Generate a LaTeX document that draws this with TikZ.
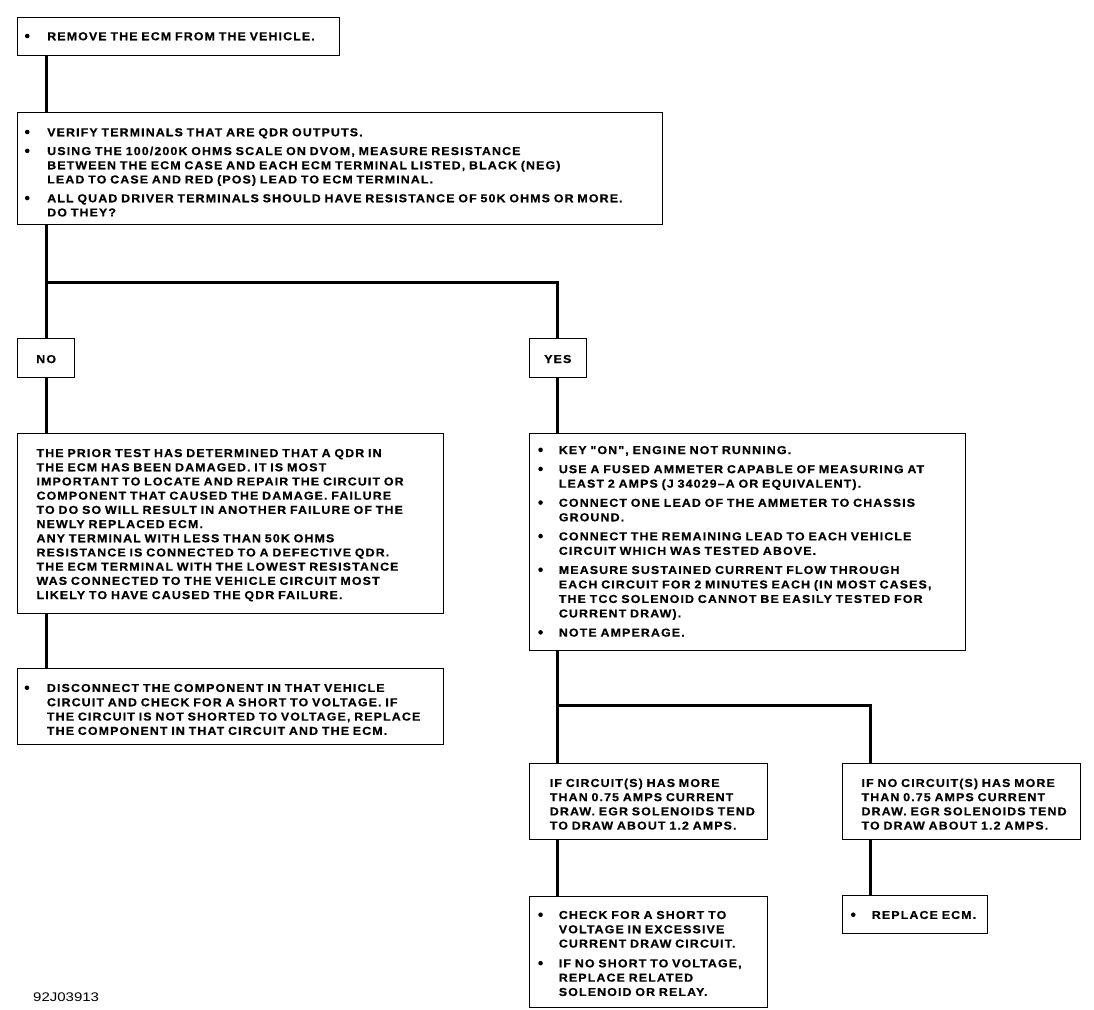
\documentclass[tikz,border=0pt]{standalone}
\usepackage{fontspec}
\setmainfont{Liberation Sans}
\newfontfamily\bxfont{Liberation Sans}[FakeStretch=1.08,LetterSpace=9.7,BoldFeatures={FakeBold=0.6}]
\newfontfamily\idfont{Liberation Sans}[FakeStretch=1.2]
\newcommand\bul{\raisebox{1.9pt}{\tikz\fill[black] (0pt,0pt) circle[radius=2.3pt];}}
\newcommand\BL[3]{{\fontsize{11.5}{#1}\selectfont\begin{tabular}[t]{@{}p{#2}@{}l@{}}#3\end{tabular}}}
\newcommand\PL[2]{{\fontsize{11.5}{#1}\selectfont\begin{tabular}[t]{@{}l@{}}#2\end{tabular}}}
\begin{document}
\begin{tikzpicture}[x=1pt,y=-1pt,
  box/.style={draw=black, line width=1.1pt, anchor=north west, inner ysep=0pt, align=left,
    font=\bxfont\bfseries\fontsize{11.5}{13.8}\selectfont},
  conn/.style={line width=3pt},
  idlabel/.style={anchor=west, inner sep=0pt, font=\idfont\fontsize{12.5}{14}\selectfont}
]
\useasboundingbox (0,0) rectangle (1094,1009);

\node[box, inner xsep=7.1pt, text width=307.8pt, text height=22.4pt, text depth=15.3pt] (b1) at (17.3,17.3)
  {\BL{13.8pt}{22.3pt}{\bul & REMOVE THE ECM FROM THE VEHICLE.}};

\node[box, inner xsep=7.1pt, text width=630.5pt, text height=23.4pt, text depth=88.3pt] (b2) at (17.3,112.3)
  {\BL{14.2pt}{22.3pt}{%
   \bul & VERIFY TERMINALS THAT ARE QDR OUTPUTS.\\[4.6pt]
   \bul & USING THE 100/200K OHMS SCALE ON DVOM, MEASURE RESISTANCE\\
     & BETWEEN THE ECM CASE AND EACH ECM TERMINAL LISTED, BLACK (NEG)\\
     & LEAD TO CASE AND RED (POS) LEAD TO ECM TERMINAL.\\[4.6pt]
   \bul & ALL QUAD DRIVER TERMINALS SHOULD HAVE RESISTANCE OF 50K OHMS OR MORE.\\
     & DO THEY?}};

\node[box, align=center, inner xsep=2pt, text width=52.7pt, text height=24.2pt, text depth=14pt] (no) at (17.3,338.3) {NO};
\node[box, align=center, inner xsep=2pt, text width=53.5pt, text height=24.2pt, text depth=14pt] (yes) at (528.5,338.3) {YES};

\node[box, inner xsep=19pt, text width=388.3pt, text height=23.2pt, text depth=156pt] (nt) at (17,433.3)
  {\PL{14.2pt}{%
   THE PRIOR TEST HAS DETERMINED THAT A QDR IN\\
   THE ECM HAS BEEN DAMAGED. IT IS MOST\\
   IMPORTANT TO LOCATE AND REPAIR THE CIRCUIT OR\\
   COMPONENT THAT CAUSED THE DAMAGE. FAILURE\\
   TO DO SO WILL RESULT IN ANOTHER FAILURE OF THE\\
   NEWLY REPLACED ECM.\\
   ANY TERMINAL WITH LESS THAN 50K OHMS\\
   RESISTANCE IS CONNECTED TO A DEFECTIVE QDR.\\
   THE ECM TERMINAL WITH THE LOWEST RESISTANCE\\
   WAS CONNECTED TO THE VEHICLE CIRCUIT MOST\\
   LIKELY TO HAVE CAUSED THE QDR FAILURE.}};

\node[box, inner xsep=7.1pt, text width=412.1pt, text height=23.1pt, text depth=52.6pt] (dc) at (17,668.3)
  {\BL{14.3pt}{22.3pt}{%
   \bul & DISCONNECT THE COMPONENT IN THAT VEHICLE\\
     & CIRCUIT AND CHECK FOR A SHORT TO VOLTAGE. IF\\
     & THE CIRCUIT IS NOT SHORTED TO VOLTAGE, REPLACE\\
     & THE COMPONENT IN THAT CIRCUIT AND THE ECM.}};

\node[box, inner xsep=8.7pt, text width=418.6pt, text height=20.2pt, text depth=196.5pt] (yt) at (529,433.3)
  {\BL{14.5pt}{20.6pt}{%
   \bul & KEY "ON", ENGINE NOT RUNNING.\\[4.6pt]
   \bul & USE A FUSED AMMETER CAPABLE OF MEASURING AT\\
     & LEAST 2 AMPS (J 34029–A OR EQUIVALENT).\\[4.6pt]
   \bul & CONNECT ONE LEAD OF THE AMMETER TO CHASSIS\\
     & GROUND.\\[4.6pt]
   \bul & CONNECT THE REMAINING LEAD TO EACH VEHICLE\\
     & CIRCUIT WHICH WAS TESTED ABOVE.\\[4.6pt]
   \bul & MEASURE SUSTAINED CURRENT FLOW THROUGH\\
     & EACH CIRCUIT FOR 2 MINUTES EACH (IN MOST CASES,\\
     & THE TCC SOLENOID CANNOT BE EASILY TESTED FOR\\
     & CURRENT DRAW).\\[4.6pt]
   \bul & NOTE AMPERAGE.}};

\node[box, inner xsep=20.3pt, text width=197.1pt, text height=23.7pt, text depth=52.6pt] (c1) at (529,762.7)
  {\PL{14.2pt}{%
   IF CIRCUIT(S) HAS MORE\\
   THAN 0.75 AMPS CURRENT\\
   DRAW. EGR SOLENOIDS TEND\\
   TO DRAW ABOUT 1.2 AMPS.}};

\node[box, inner xsep=19.3pt, text width=199.7pt, text height=23.7pt, text depth=52.1pt] (c2) at (841.7,762.7)
  {\PL{14.2pt}{%
   IF NO CIRCUIT(S) HAS MORE\\
   THAN 0.75 AMPS CURRENT\\
   DRAW. EGR SOLENOIDS TEND\\
   TO DRAW ABOUT 1.2 AMPS.}};

\node[box, inner xsep=8.7pt, text width=220.3pt, text height=22.4pt, text depth=88.6pt] (ck) at (529,896)
  {\BL{14.3pt}{20.6pt}{%
   \bul & CHECK FOR A SHORT TO\\
     & VOLTAGE IN EXCESSIVE\\
     & CURRENT DRAW CIRCUIT.\\[5.5pt]
   \bul & IF NO SHORT TO VOLTAGE,\\
     & REPLACE RELATED\\
     & SOLENOID OR RELAY.}};

\node[box, inner xsep=8.7pt, text width=127.9pt, text height=23.4pt, text depth=14.6pt] (re) at (841.7,895)
  {\BL{14.3pt}{20.9pt}{\bul & REPLACE ECM.}};

\node[idlabel] (fig) at (33,997) {92J03913};

\coordinate (j1) at (46,282.7);
\coordinate (j2) at (557,705);
\coordinate (rx) at (870,800);

\draw[conn] (b1.south -| no.north) -- (b2.north -| no.north);
\draw[conn] (b2.south -| no.north) -- (no.north);
\draw[conn] (j1 -| no.north) -| (yes.north);
\draw[conn] (no.south) -- (nt.north -| no.south);
\draw[conn] (nt.south -| no.south) -- (dc.north -| no.south);
\draw[conn] (yes.south) -- (yt.north -| yes.south);
\draw[conn] (yt.south -| yes.south) -- (c1.north -| yes.south);
\draw[conn] (j2 -| yes.south) -| (c2.north -| rx);
\draw[conn] (c1.south -| yes.south) -- (ck.north -| yes.south);
\draw[conn] (c2.south -| rx) -- (re.north -| rx);
\end{tikzpicture}
\end{document}
